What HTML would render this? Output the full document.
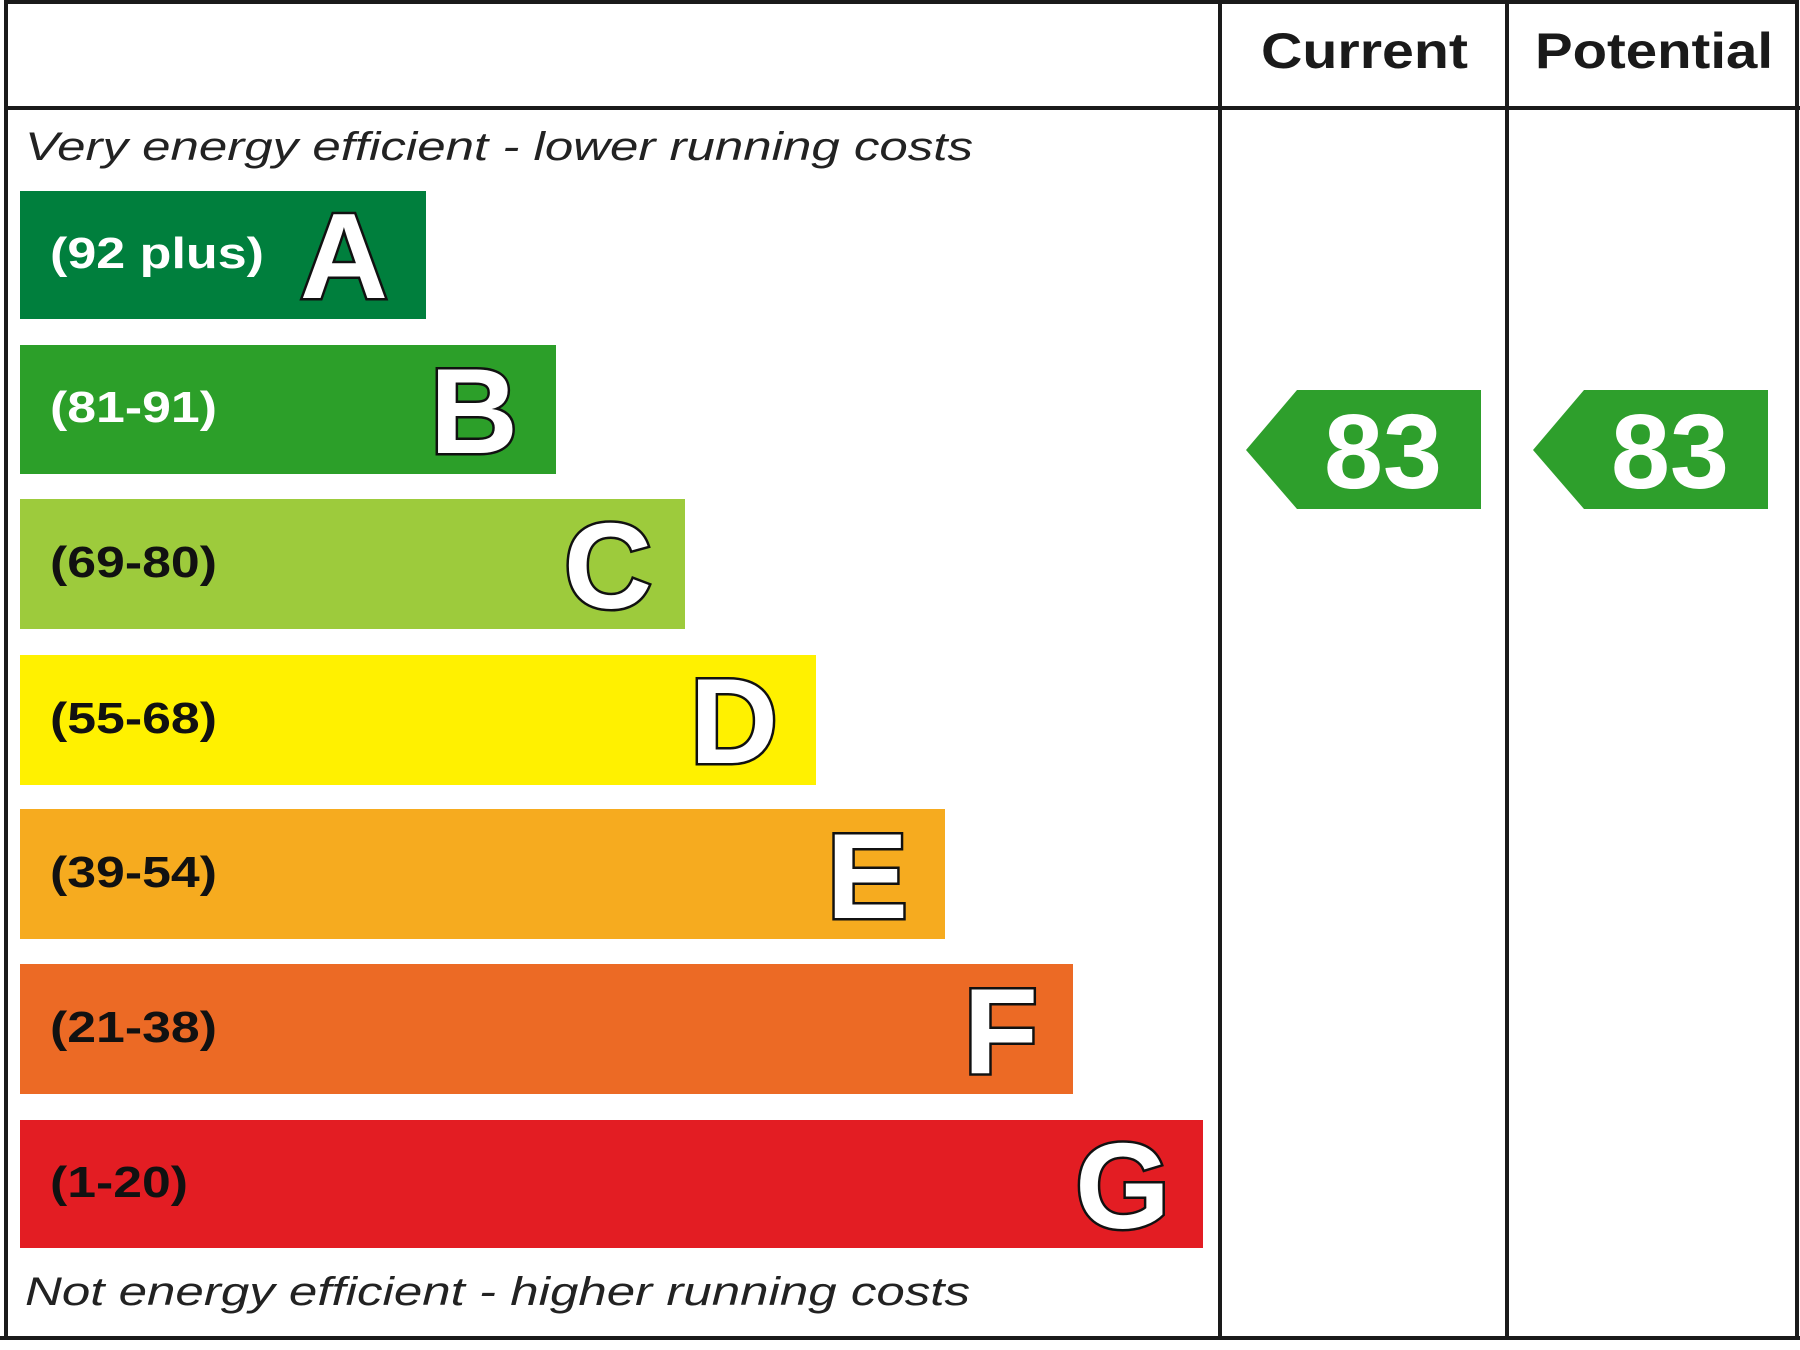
<!DOCTYPE html>
<html><head><meta charset="utf-8"><style>
html,body{margin:0;padding:0;background:#fff;}
svg{display:block;}
</style></head><body>
<svg width="1800" height="1350" viewBox="0 0 1800 1350" xmlns="http://www.w3.org/2000/svg" font-family="Liberation Sans, Arial, sans-serif">
<rect x="0" y="0" width="1800" height="1350" fill="#fff"/>
<g stroke="#1a1a1a" stroke-width="4" fill="none">
<line x1="6" y1="2" x2="1797" y2="2"/>
<line x1="6" y1="0" x2="6" y2="1338"/>
<line x1="1797" y1="0" x2="1797" y2="1338"/>
<line x1="4" y1="108" x2="1800" y2="108"/>
<line x1="1220" y1="0" x2="1220" y2="1338"/>
<line x1="1507" y1="0" x2="1507" y2="1338"/>
<line x1="0" y1="1338" x2="1800" y2="1338"/>
</g>
<text x="1261" y="68" font-size="50" font-weight="bold" fill="#1a1a1a" textLength="207" lengthAdjust="spacingAndGlyphs">Current</text>
<text x="1535" y="68" font-size="50" font-weight="bold" fill="#1a1a1a" textLength="238" lengthAdjust="spacingAndGlyphs">Potential</text>
<text x="25" y="160" font-size="40" font-style="italic" fill="#222" textLength="948" lengthAdjust="spacingAndGlyphs">Very energy efficient - lower running costs</text>
<text x="25" y="1305" font-size="40" font-style="italic" fill="#222" textLength="945" lengthAdjust="spacingAndGlyphs">Not energy efficient - higher running costs</text>
<g>
<rect x="20" y="191" width="406" height="128" fill="#007f3d"/>
<rect x="20" y="345" width="536" height="129" fill="#2c9f29"/>
<rect x="20" y="499" width="665" height="130" fill="#9dcb3c"/>
<rect x="20" y="655" width="796" height="130" fill="#fff100"/>
<rect x="20" y="809" width="925" height="130" fill="#f6ab1f"/>
<rect x="20" y="964" width="1053" height="130" fill="#ec6a25"/>
<rect x="20" y="1120" width="1183" height="128" fill="#e31d23"/>
</g>
<g font-size="44" font-weight="bold" lengthAdjust="spacingAndGlyphs">
<text x="50" y="268" fill="#fff" textLength="214" lengthAdjust="spacingAndGlyphs">(92 plus)</text>
<text x="50" y="422" fill="#fff" textLength="167" lengthAdjust="spacingAndGlyphs">(81-91)</text>
<text x="50" y="577" fill="#111" textLength="167" lengthAdjust="spacingAndGlyphs">(69-80)</text>
<text x="50" y="733" fill="#111" textLength="167" lengthAdjust="spacingAndGlyphs">(55-68)</text>
<text x="50" y="887" fill="#111" textLength="167" lengthAdjust="spacingAndGlyphs">(39-54)</text>
<text x="50" y="1042" fill="#111" textLength="167" lengthAdjust="spacingAndGlyphs">(21-38)</text>
<text x="50" y="1197" fill="#111" textLength="138" lengthAdjust="spacingAndGlyphs">(1-20)</text>
</g>
<g font-size="122" font-weight="bold" fill="#fff" stroke="#111" stroke-width="5" paint-order="stroke" text-anchor="end">
<text x="388" y="298">A</text>
<text x="518" y="453">B</text>
<text x="652" y="608">C</text>
<text x="778" y="763">D</text>
<text x="908" y="918">E</text>
<text x="1038" y="1073">F</text>
<text x="1170" y="1228">G</text>
</g>
<polygon points="1246,450 1297,390 1481,390 1481,509 1297,509" fill="#2e9f2c"/>
<polygon points="1533,450 1584,390 1768,390 1768,509 1584,509" fill="#2e9f2c"/>
<g font-size="106" font-weight="bold" fill="#fff" text-anchor="middle">
<text x="1383" y="488">83</text>
<text x="1670" y="488">83</text>
</g>
</svg>
</body></html>
